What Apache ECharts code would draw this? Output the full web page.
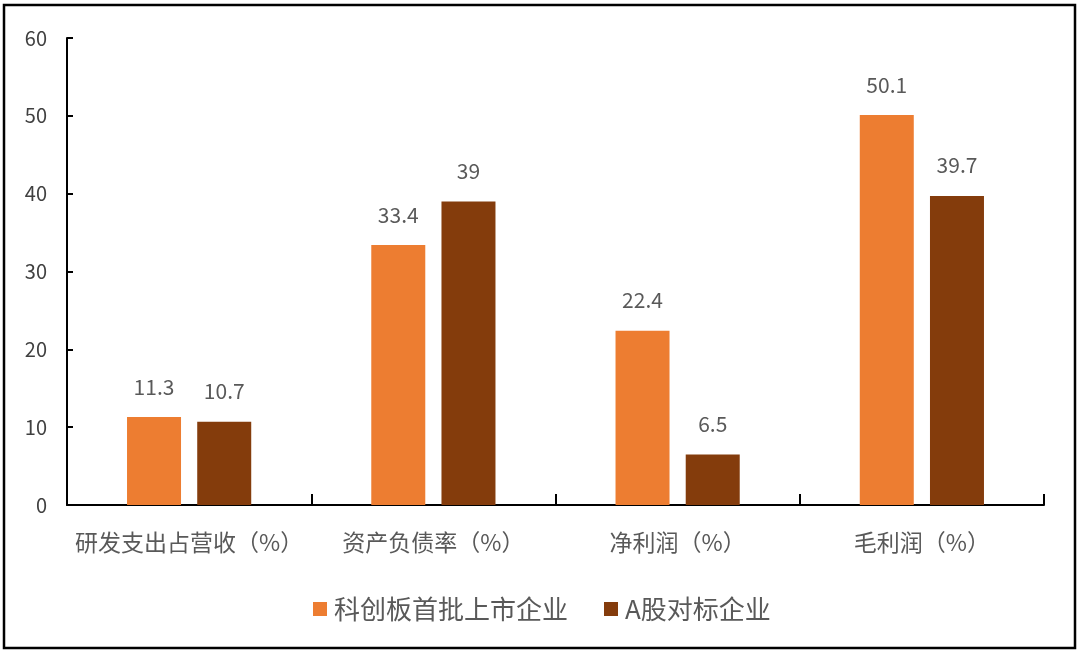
<!DOCTYPE html>
<html>
<head>
<meta charset="utf-8">
<script src="https://cdn.jsdelivr.net/npm/echarts@6/dist/echarts.min.js"></script>
<style>
  html, body { margin: 0; padding: 0; background: #fff; }
  #chart { width: 1080px; height: 654px; }
</style>
</head>
<body>
<div id="chart"></div>
<script>
const categories = ["研发支出占营收（%）", "资产负债率（%）", "净利润（%）", "毛利润（%）"];
const starMarket = [11.3, 33.4, 22.4, 50.1];
const aShareBench = [10.7, 39, 6.5, 39.7];
const seriesNames = ["科创板首批上市企业", "A股对标企业"];

const palette = {
  orange: "#ED7D31",
  brown: "#843C0C",
};

const font = "'Noto Sans CJK SC', 'Noto Sans', sans-serif";

const chart = echarts.init(document.getElementById("chart"));

// data label common style
const labelStyle = {
  show: true,
  position: "top",
  distance: 20,
  color: "#595959",
  fontSize: 21,
  fontFamily: font,
};

chart.setOption({
  backgroundColor: "#fff",
  animation: false,
  graphic: [
    {
      type: "rect",
      shape: { x: 4, y: 5, width: 1071, height: 643 },
      style: { fill: "none", stroke: "#000", lineWidth: 2.5 },
      z: 100,
    },
  ],
  legend: {
    data: seriesNames,
    left: 308,
    top: 591,
    itemWidth: 14,
    itemHeight: 14,
    itemGap: 36,
    icon: "rect",
    textStyle: { color: "#595959", fontSize: 26, fontFamily: font, padding: [0, 0, 0, 2] },
  },
  grid: {
    left: 67,
    right: 36,
    top: 38,
    bottom: 149,
    containLabel: false,
  },
  xAxis: {
    type: "category",
    data: categories,
    axisLine: { show: true, lineStyle: { color: "#000", width: 2 } },
    axisTick: { show: true, inside: true, length: 11, lineStyle: { color: "#000", width: 2 } },
    axisLabel: {
      color: "#595959",
      fontSize: 23,
      fontFamily: font,
      margin: 26,
      interval: 0,
    },
    splitLine: { show: false },
  },
  yAxis: {
    type: "value",
    min: 0,
    max: 60,
    interval: 10,
    axisLine: { show: true, lineStyle: { color: "#000", width: 2 } },
    axisTick: { show: true, inside: true, length: 6, lineStyle: { color: "#000", width: 2 } },
    axisLabel: {
      color: "#404040",
      fontSize: 20,
      fontFamily: font,
      margin: 20,
    },
    splitLine: { show: false },
  },
  series: [
    {
      name: seriesNames[0],
      type: "bar",
      barWidth: 54,
      barGap: "30%",
      itemStyle: { color: palette.orange },
      label: labelStyle,
      data: starMarket,
    },
    {
      name: seriesNames[1],
      type: "bar",
      barWidth: 54,
      barGap: "30%",
      itemStyle: { color: palette.brown },
      label: labelStyle,
      data: aShareBench,
    },
  ],
});
</script>
</body>
</html>
